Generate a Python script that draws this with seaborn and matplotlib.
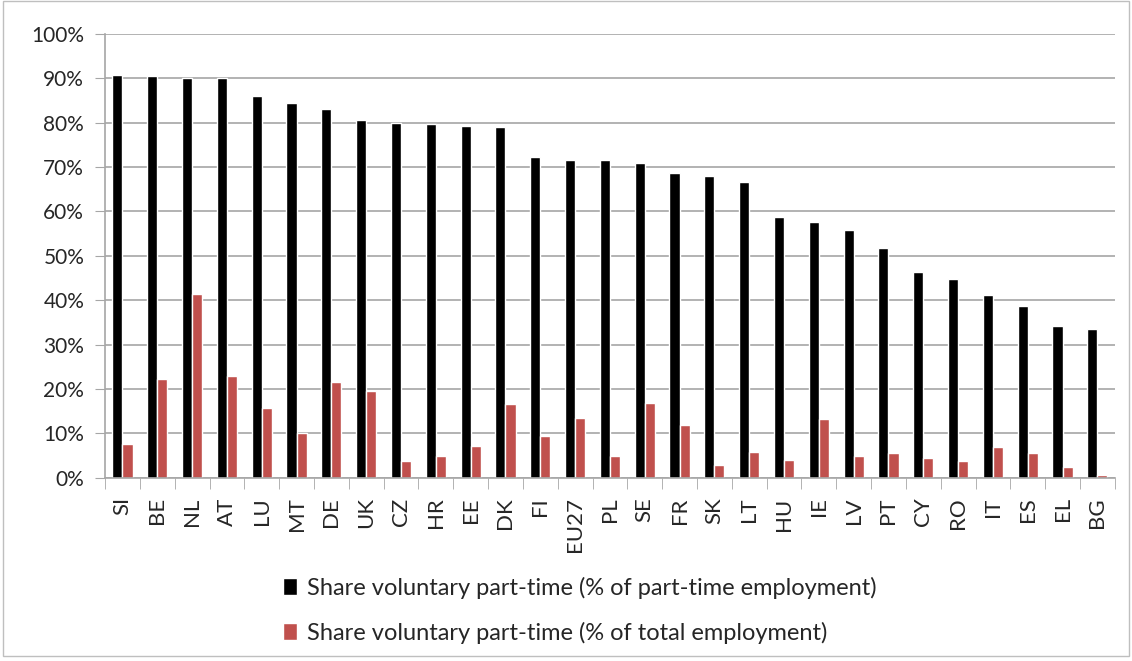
import numpy as np
import pandas as pd
import matplotlib
matplotlib.use("Agg")
import matplotlib.pyplot as plt
import seaborn as sns
from matplotlib.ticker import PercentFormatter, FixedLocator
from matplotlib.patches import Rectangle

# datos
paises = ["SI", "BE", "NL", "AT", "LU", "MT", "DE", "UK", "CZ", "HR", "EE", "DK", "FI", "EU27",
          "PL", "SE", "FR", "SK", "LT", "HU", "IE", "LV", "PT", "CY", "RO", "IT", "ES", "EL", "BG"]
pct_parcial = [90.8, 90.5, 90.0, 90.0, 86.0, 84.3, 83.0, 80.5, 80.0, 79.7, 79.2, 78.9, 72.3, 71.5,
               71.5, 71.0, 68.6, 68.0, 66.7, 58.8, 57.5, 55.8, 51.8, 46.4, 44.8, 41.2, 38.6, 34.2, 33.6]
pct_total = [7.7, 22.3, 41.5, 22.9, 15.8, 10.1, 21.5, 19.6, 3.9, 5.0, 7.2, 16.7, 9.4, 13.4,
             5.0, 16.9, 12.0, 2.8, 5.8, 4.0, 13.2, 5.0, 5.5, 4.5, 3.9, 6.9, 5.5, 2.4, 0.6]
series = ["Share voluntary part-time (% of part-time employment)",
          "Share voluntary part-time (% of total employment)"]
colores = ["#000000", "#C0504D"]

df = pd.DataFrame({
    "pais": paises * 2,
    "valor": pct_parcial + pct_total,
    "serie": [series[0]] * len(paises) + [series[1]] * len(paises),
})

sns.set_style("white")
plt.rcParams["font.family"] = ["Lato", "DejaVu Sans"]

fig = plt.figure(figsize=(11.32, 6.61), dpi=100)
ax = fig.add_axes([0.0928, 0.277, 0.892, 0.672])

sns.barplot(data=df, x="pais", y="valor", hue="serie", palette=colores,
            width=0.58, gap=0, dodge=True, ax=ax, saturation=1, legend=True)

ax.set_ylim(0, 100)
ax.set_xlim(-0.5, len(paises) - 0.5)
ax.yaxis.set_major_locator(FixedLocator(np.arange(0, 101, 10)))
ax.yaxis.set_major_formatter(PercentFormatter(decimals=0))
ax.grid(axis="y", color="#A6A6A6", linewidth=1.2)
ax.set_axisbelow(True)
ax.set_xlabel("")
ax.set_ylabel("")

for lado in ["top", "right"]:
    ax.spines[lado].set_visible(False)
for lado in ["left", "bottom"]:
    ax.spines[lado].set_color("#A6A6A6")
    ax.spines[lado].set_linewidth(1.2)

ax.tick_params(axis="y", labelsize=15, length=7, color="#A6A6A6", left=True, pad=8)
ax.tick_params(axis="x", which="major", labelsize=16, length=0, rotation=90, pad=14)
ax.set_xticks(np.arange(-0.5, len(paises), 1), minor=True)
ax.tick_params(axis="x", which="minor", length=8, color="#A6A6A6", bottom=True)

ax.legend(loc="upper center", bbox_to_anchor=(0.47, -0.175), ncol=1, frameon=False,
          fontsize=17, handlelength=0.6, handleheight=0.7, labelspacing=0.95, handletextpad=0.4)

fig.patches.append(Rectangle((0.003, 0.008), 0.994, 0.99, transform=fig.transFigure,
                             fill=False, edgecolor="#BFBFBF", linewidth=1))

fig.savefig("out.png", dpi=100)
